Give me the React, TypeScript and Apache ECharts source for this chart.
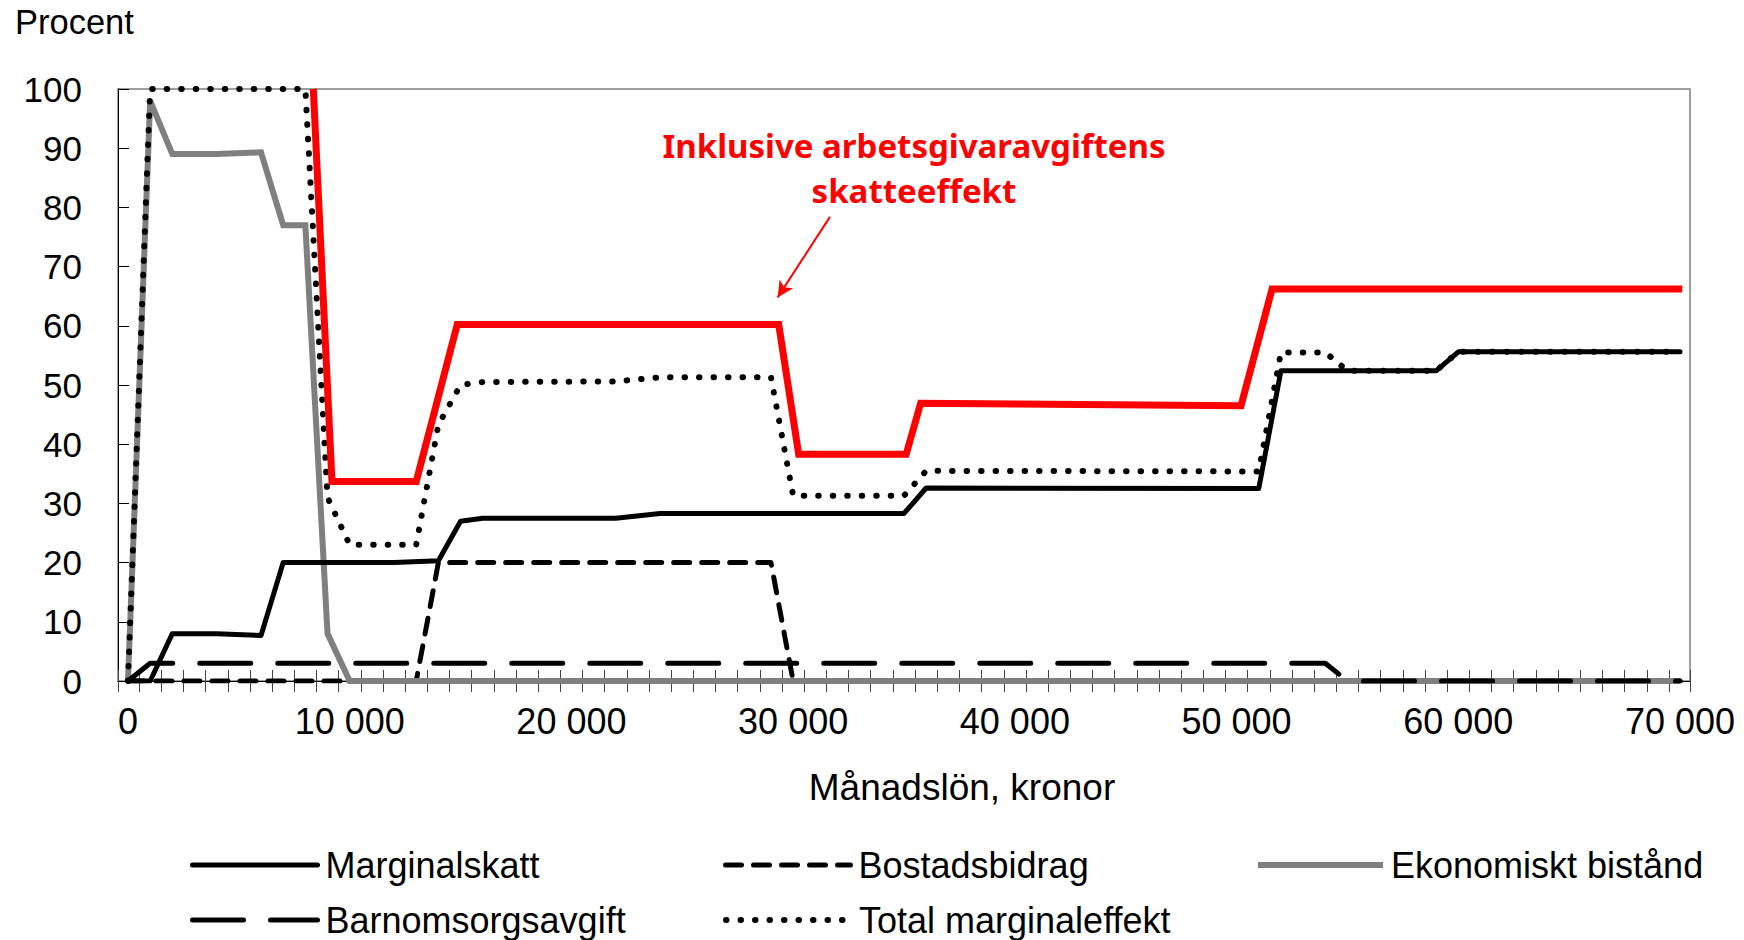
import React, { useEffect, useRef } from 'react';
import * as echarts from 'echarts';

// ---- Data ----
const xLabelValues = [0, 10000, 20000, 30000, 40000, 50000, 60000, 70000];
const yMax = 100;
const yStep = 10;

const seriesNames = [
  'Marginalskatt',
  'Bostadsbidrag',
  'Ekonomiskt bistånd',
  'Barnomsorgsavgift',
  'Total marginaleffekt',
];

const marginalskatt: [number, number][] = [
  [0, 0], [1000, 0], [2000, 8], [4000, 8], [6000, 7.7], [7000, 20], [12000, 20],
  [14000, 20.3], [15000, 27], [16000, 27.5], [22000, 27.5], [24000, 28.3],
  [35000, 28.3], [36000, 32.6], [51000, 32.5], [52000, 52.4], [59000, 52.4],
  [60000, 55.6], [70000, 55.6],
];

const bostadsbidrag: [number, number][] = [
  [0, 0], [13000, 0], [14000, 20], [29000, 20], [30000, 0], [70000, 0],
];

const ekonomisktBistand: [number, number][] = [
  [0, 0], [1000, 98], [2000, 89], [4000, 89], [6000, 89.3], [7000, 77],
  [8000, 77], [9000, 8], [10000, 0], [70000, 0],
];

const barnomsorgsavgift: [number, number][] = [
  [0, 0], [1000, 3], [54000, 3], [55000, 0], [70000, 0],
];

const totalMarginaleffekt: [number, number][] = [
  [0, 0], [1000, 100], [8000, 100], [9000, 31], [10000, 23], [13000, 23],
  [14000, 43.3], [15000, 50], [16000, 50.5], [22000, 50.6], [24000, 51.3],
  [29000, 51.3], [30000, 31.3], [35000, 31.3], [36000, 35.5], [51000, 35.4],
  [52000, 55.5], [54000, 55.5], [55000, 52.4], [59000, 52.4], [60000, 55.6],
  [70000, 55.6],
];

const inklArbetsgivaravgift: [number, number][] = [
  [8360, 100], [9200, 33.7], [13000, 33.7], [14850, 60.2], [29350, 60.2],
  [30250, 38.3], [35100, 38.3], [35750, 46.9], [50200, 46.5], [51600, 66.2],
  [70100, 66.2],
];

const annotationLines = ['Inklusive arbetsgivaravgiftens', 'skatteeffekt'];
const arrowFrom: [number, number] = [31660, 78.4];
const arrowTo: [number, number] = [29300, 64.8];

// ---- Styling ----
const FONT = '"Liberation Sans", Arial, Helvetica, sans-serif';
const X_MIN = -450;
const X_MAX = 70450;
const minorTickValues: number[] = [X_MIN];
for (let v = 500; v < X_MAX; v += 1000) minorTickValues.push(v);
minorTickValues.push(X_MAX);

function fmtThousands(v: number): string {
  return String(v).replace(/\B(?=(\d{3})+(?!\d))/g, ' ');
}

export default function App() {
  const ref = useRef<HTMLDivElement>(null);

  useEffect(() => {
    if (!ref.current) return;
    const chart = echarts.init(ref.current, undefined, { renderer: 'svg' });

    const lineBase = {
      type: 'line' as const,
      symbol: 'none',
      showSymbol: false,
      silent: true,
      smooth: false,
      xAxisIndex: 0,
      yAxisIndex: 0,
      emphasis: { disabled: true },
    };

    const legendCommon = {
      orient: 'horizontal' as const,
      padding: 0,
      itemWidth: 125,
      itemHeight: 36,
      selectedMode: false,
      textStyle: {
        fontFamily: FONT,
        fontSize: 36,
        color: '#000',
        lineHeight: 36,
        padding: [0, 0, 0, 3],
      },
      itemStyle: { opacity: 0, borderWidth: 0 },
      lineStyle: { width: 'inherit', opacity: 1 },
    };

    const option: any = {
      animation: false,
      backgroundColor: '#ffffff',
      grid: {
        left: 118,
        right: 54,
        top: 89,
        bottom: 259,
        show: true,
        borderColor: '#7f7f7f',
        borderWidth: 1.5,
        backgroundColor: 'transparent',
      },
      xAxis: [
        {
          type: 'value',
          position: 'bottom',
          min: X_MIN,
          max: X_MAX,
          axisLine: { show: true, onZero: false, lineStyle: { color: '#000', width: 1 } },
          axisTick: {
            show: true,
            inside: false,
            length: 11,
            customValues: minorTickValues,
            lineStyle: { color: '#444', width: 1 },
          },
          axisLabel: {
            show: true,
            customValues: xLabelValues,
            formatter: (v: number) => fmtThousands(v),
            fontFamily: FONT,
            fontSize: 36,
            color: '#000',
            margin: 22,
          },
          splitLine: { show: false },
        },
        {
          type: 'value',
          position: 'bottom',
          min: X_MIN,
          max: X_MAX,
          axisLine: { show: false, onZero: false },
          axisTick: {
            show: true,
            inside: true,
            length: 11,
            customValues: minorTickValues,
            lineStyle: { color: '#444', width: 1 },
          },
          axisLabel: { show: false },
          splitLine: { show: false },
        },
      ],
      yAxis: {
        type: 'value',
        min: 0,
        max: yMax,
        interval: yStep,
        axisLine: { show: true, onZero: false, lineStyle: { color: '#000', width: 1 } },
        axisTick: { show: true, inside: true, length: 11, lineStyle: { color: '#000', width: 1 } },
        axisLabel: {
          fontFamily: FONT,
          fontSize: 35,
          color: '#000',
          margin: 36,
        },
        splitLine: { show: false },
      },
      legend: [
        { ...legendCommon, left: 190, top: 847, data: [seriesNames[0]] },
        { ...legendCommon, left: 723, top: 847, data: [seriesNames[1]] },
        { ...legendCommon, left: 1255, top: 847, data: [seriesNames[2]] },
        { ...legendCommon, left: 190, top: 902, data: [seriesNames[3]] },
        { ...legendCommon, left: 723, top: 902, data: [seriesNames[4]] },
      ],
      graphic: [
        {
          type: 'text',
          left: 15,
          top: 4,
          style: { text: 'Procent', fontFamily: FONT, fontSize: 34.5, fill: '#000' },
        },
        {
          type: 'text',
          x: 962,
          y: 787,
          style: {
            text: 'Månadslön, kronor',
            fontFamily: FONT,
            fontSize: 37,
            fill: '#000',
            textAlign: 'center',
            textVerticalAlign: 'middle',
          },
        },
        {
          type: 'text',
          x: 914,
          y: 145,
          style: {
            text: annotationLines[0],
            fontFamily: '"Noto Sans", "Open Sans", sans-serif',
            fontWeight: 'bold',
            fontSize: 33,
            fill: '#ff0000',
            textAlign: 'center',
            textVerticalAlign: 'middle',
          },
        },
        {
          type: 'text',
          x: 914,
          y: 190,
          style: {
            text: annotationLines[1],
            fontFamily: '"Noto Sans", "Open Sans", sans-serif',
            fontWeight: 'bold',
            fontSize: 33,
            fill: '#ff0000',
            textAlign: 'center',
            textVerticalAlign: 'middle',
          },
        },
      ],
      series: [
        {
          ...lineBase,
          name: seriesNames[1],
          data: bostadsbidrag,
          lineStyle: { color: '#000', width: 5, type: [16, 12], cap: 'round', join: 'round' },
          itemStyle: { color: '#000' },
          z: 2,
        },
        {
          ...lineBase,
          name: seriesNames[2],
          data: ekonomisktBistand,
          lineStyle: { color: '#7f7f7f', width: 6, type: 'solid', cap: 'butt', join: 'miter' },
          itemStyle: { color: '#7f7f7f' },
          z: 3,
        },
        {
          ...lineBase,
          name: seriesNames[3],
          data: barnomsorgsavgift,
          lineStyle: { color: '#000', width: 5, type: [51, 27], cap: 'round', join: 'round' },
          itemStyle: { color: '#000' },
          z: 4,
        },
        {
          ...lineBase,
          name: seriesNames[0],
          data: marginalskatt,
          lineStyle: { color: '#000', width: 5, type: 'solid', cap: 'round', join: 'round' },
          itemStyle: { color: '#000' },
          z: 5,
        },
        {
          ...lineBase,
          name: seriesNames[4],
          data: totalMarginaleffekt,
          lineStyle: { color: '#000', width: 6, type: [0.5, 14], cap: 'round', join: 'round' },
          itemStyle: { color: '#000' },
          z: 6,
        },
        {
          ...lineBase,
          name: 'Inklusive arbetsgivaravgiftens skatteeffekt',
          data: inklArbetsgivaravgift,
          lineStyle: { color: '#ff0000', width: 7, type: 'solid', cap: 'butt', join: 'miter' },
          itemStyle: { color: '#ff0000' },
          z: 7,
          markLine: {
            silent: true,
            symbol: ['none', 'arrow'],
            symbolSize: [12, 16],
            label: { show: false },
            emphasis: { disabled: true },
            lineStyle: { color: '#ff0000', width: 2, type: 'solid' },
            data: [[{ coord: arrowFrom }, { coord: arrowTo }]],
          },
        },
      ],
    };

    chart.setOption(option);
    return () => {
      chart.dispose();
    };
  }, []);

  return (
    <div
      ref={ref}
      style={{ position: 'fixed', left: 0, top: 0, width: 1744, height: 940, background: '#fff' }}
    />
  );
}
